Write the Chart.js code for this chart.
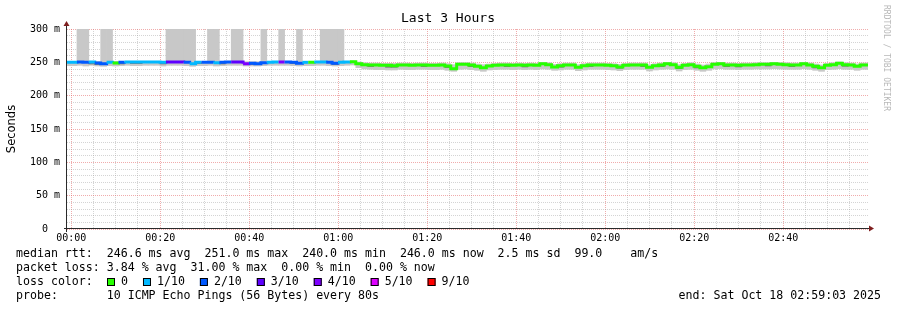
<!DOCTYPE html>
<html>
<head>
<meta charset="utf-8">
<title>Last 3 Hours</title>
<script src="https://cdn.jsdelivr.net/npm/chart.js@4.4.0/dist/chart.umd.min.js"></script>
<style>
  html, body { margin: 0; padding: 0; background: #fff; }
  canvas { display: block; }
</style>
</head>
<body>
<canvas id="smoke" width="897" height="310"></canvas>
<script>
// times are seconds relative to 00:00, one rrd step every 80 s
const stepSeconds = 80;
const firstStep = -83;      // 23:58:37
const viewStart = -57;      // 23:59:03
const viewEnd = 10743;      // 02:59:03

const timeLabels = ['00:00', '00:20', '00:40', '01:00', '01:20', '01:40', '02:00', '02:20', '02:40'];
const yLabels = ['0  ', '50 m', '100 m', '150 m', '200 m', '250 m', '300 m'];

// median rtt per step (ms)
const median = [
  250, 250, 250.5, 250, 250.5, 249, 248, 250, 249, 250,
  250.5, 250.5, 250.5, 250.5, 250.5, 250.5, 250, 250.5, 250.5, 250.5,
  250, 248, 250, 250, 250, 249.5, 250, 250.5, 250.5, 250.5,
  248, 248.5, 248, 249.5, 250, 250.5, 250.5, 250.5, 250, 248.5,
  250, 250, 250.5, 250.5, 250, 248.5, 250, 250.5, 251, 248,
  246.5, 246, 246, 245.5, 245.5, 245, 246, 246, 245.5, 246,
  246, 245.5, 245.5, 246, 244.5, 240.5, 247, 247, 246, 244,
  242, 244.5, 245.5, 246, 246, 245.5, 246, 245.5, 246, 245.5,
  248, 246.5, 243, 245, 246, 246, 242.5, 245, 246, 246,
  246, 245.5, 245, 243, 245.5, 246, 246, 246, 242.5, 245,
  246, 248, 246.5, 242.5, 245.5, 246.5, 244, 242, 243.5, 247,
  248, 246, 246, 245.5, 246, 246, 246.5, 247, 247, 248,
  247, 246.5, 246, 246, 248, 246, 244, 242, 245.5, 246.5,
  248.5, 246.5, 246, 244, 246, 246
];

// lost pings out of 10 per step
const loss = [
  1, 1, 2, 2, 1, 2, 2, 1, 0, 2,
  1, 1, 1, 1, 1, 1, 1, 3, 3, 3,
  2, 1, 1, 2, 2, 1, 2, 2, 3, 3,
  4, 2, 2, 2, 1, 1, 4, 2, 2, 2,
  1, 0, 1, 1, 2, 2, 1, 1, 0, 0,
  0, 0, 0, 0, 0, 0, 0, 0, 0, 0,
  0, 0, 0, 0, 0, 0, 0, 0, 0, 0,
  0, 0, 0, 0, 0, 0, 0, 0, 0, 0,
  0, 0, 0, 0, 0, 0, 0, 0, 0, 0,
  0, 0, 0, 0, 0, 0, 0, 0, 0, 0,
  0, 0, 0, 0, 0, 0, 0, 0, 0, 0,
  0, 0, 0, 0, 0, 0, 0, 0, 0, 0,
  0, 0, 0, 0, 0, 0, 0, 0, 0, 0,
  0, 0, 0, 0, 0, 0
];

// smoke: lowest / highest ping per step (ms)
const smokeLo = [
  245, 245, 245.5, 244.5, 245.5, 244.5, 244, 245, 244.5, 245,
  245.5, 245, 245, 245.5, 245.5, 245.5, 244.5, 245.5, 245.5, 245.5,
  245, 244, 245, 245, 245.5, 244.5, 245, 245.5, 245.5, 245.5,
  244.5, 244.5, 244.5, 245, 245.5, 245.5, 245.5, 245.5, 245, 244.5,
  245, 245, 245.5, 245.5, 245, 244.5, 245, 245.5, 246, 242,
  240, 239.5, 239, 239, 238.5, 238.5, 239.5, 239, 239, 239.5,
  239.5, 239, 239, 239.5, 238, 236.5, 239.5, 240, 239, 238,
  236.5, 238.5, 239, 239.5, 239.5, 239, 239.5, 239, 239.5, 239,
  240, 239.5, 238, 238.5, 239.5, 239.5, 237.5, 238.5, 239.5, 239.5,
  239.5, 239, 238.5, 237.5, 239, 239.5, 239.5, 239.5, 237, 238.5,
  239.5, 240, 239.5, 237, 239, 239.5, 238, 236.5, 238, 240,
  240.5, 239.5, 239.5, 239, 239.5, 239.5, 240, 240, 240, 240.5,
  240, 239.5, 239.5, 239.5, 240.5, 239.5, 238, 236.5, 239, 239.5,
  240.5, 239.5, 239.5, 238, 239.5, 239.5
];
const smokeHi = [
  251.5, 251.5, 320, 320, 251.5, 251.5, 320, 320, 251.5, 251.5,
  251.5, 251.5, 251.5, 251.5, 251.5, 251.5, 251.5, 320, 320, 320,
  320, 320, 251.5, 251.5, 320, 320, 251.5, 251.5, 320, 320,
  251, 251, 251, 320, 251.5, 251.5, 320, 251.5, 251.5, 320,
  251.5, 251.5, 251.5, 320, 320, 320, 320, 251.5, 252, 250.5,
  249.5, 249, 249, 248.5, 248.5, 248.5, 249, 249, 248.5, 249,
  249, 248.5, 248.5, 249, 248, 246.5, 249.5, 249.5, 249, 247.5,
  246.5, 247.5, 248.5, 249, 249, 248.5, 249, 248.5, 249, 248.5,
  250, 249.5, 247, 248, 249, 249, 246.5, 248, 249, 249,
  249, 248.5, 248, 247, 248.5, 249, 249, 249, 246.5, 248,
  249, 250, 249.5, 246.5, 248.5, 249.5, 247.5, 246, 247.5, 249.5,
  250, 249, 249, 248.5, 249, 249, 249.5, 249.5, 249.5, 250,
  249.5, 249.5, 249, 249, 250, 249, 247.5, 246, 248.5, 249.5,
  250.5, 249.5, 249, 247.5, 249, 249
];
// denser smoke just under the median
const darkLo = [
  null, null, null, null, 247.5, 246.5, null, null, null, 247.5,
  null, 248, 248, null, null, null, 247.5, null, null, null,
  null, null, 248, null, null, null, 247.5, null, null, null,
  null, 246.5, null, null, null, null, null, null, 248, null,
  null, null, null, null, null, 246.5, null, null, null, null,
  null, 243.5, null, null, 242.5, 242.5, null, null, null, null,
  243.5, null, null, null, 242, null, null, null, 243.5, null,
  null, null, null, null, 243.5, null, null, 243, null, null,
  null, null, null, 242.5, null, null, null, null, 243.5, null,
  null, null, null, 241, null, null, null, 243.5, null, null,
  243.5, null, null, 240.5, null, null, 241.5, null, null, null,
  null, 243.5, null, 243, null, null, null, null, 244.5, null,
  null, null, 243.5, null, null, null, 241.5, null, null, null,
  null, 244, null, null, null, null
];

const lossLevels = [0, 1, 2, 3, 4, 5, 9];
const lossLegend = ['0', '1/10', '2/10', '3/10', '4/10', '5/10', '9/10'];
const lossColors = {0: '#26ff00', 1: '#00b8ff', 2: '#0059ff', 3: '#5e00ff', 4: '#7e00ff', 5: '#dd00ff', 9: '#ff0000'};

const statsRtt = 'median rtt:  246.6 ms avg  251.0 ms max  240.0 ms min  246.0 ms now  2.5 ms sd  99.0    am/s';
const statsLoss = 'packet loss: 3.84 % avg  31.00 % max  0.00 % min  0.00 % now';
const probeText = 'probe:       10 ICMP Echo Pings (56 Bytes) every 80s';
const endText = 'end: Sat Oct 18 02:59:03 2025';

const MONO = '"DejaVu Sans Mono", monospace';
const minorGrid = 'rgba(160,160,160,0.45)';
const majorGrid = 'rgba(225,90,90,0.5)';

const stepStarts = median.map((_, i) => firstStep + i * stepSeconds);
const lineData = median.map((v, i) => ({ x: stepStarts[i], y: v }));
lineData.push({ x: firstStep + median.length * stepSeconds, y: median[median.length - 1] });
const smokeData = smokeLo.map((lo, i) => ({ x: stepStarts[i] + stepSeconds / 2, y: [lo, smokeHi[i]] }));
const darkData = darkLo.map((lo, i) => ({ x: stepStarts[i] + stepSeconds / 2, y: lo === null ? null : [lo, median[i]] }));

const decorations = {
  id: 'decorations',
  afterDraw(chart) {
    const ctx = chart.ctx;
    const a = chart.chartArea;
    ctx.save();

    // axes + arrows
    const ax = a.left - 0.5, ay = a.bottom - 0.5;
    ctx.strokeStyle = '#2a2a2a';
    ctx.lineWidth = 1;
    ctx.beginPath();
    ctx.moveTo(ax, a.bottom + 3);
    ctx.lineTo(ax, a.top - 5);
    ctx.moveTo(a.left - 3, ay);
    ctx.lineTo(a.right + 2, ay);
    ctx.stroke();
    ctx.fillStyle = '#7f1f1f';
    ctx.beginPath();
    ctx.moveTo(ax, a.top - 8);
    ctx.lineTo(ax - 3, a.top - 3);
    ctx.lineTo(ax + 3, a.top - 3);
    ctx.closePath();
    ctx.fill();
    ctx.beginPath();
    ctx.moveTo(a.right + 6, ay);
    ctx.lineTo(a.right + 1, ay - 3);
    ctx.lineTo(a.right + 1, ay + 3);
    ctx.closePath();
    ctx.fill();

    // title
    ctx.fillStyle = '#000';
    ctx.textBaseline = 'middle';
    ctx.textAlign = 'center';
    ctx.font = '13px ' + MONO;
    ctx.fillText('Last 3 Hours', 448, 19);

    // y axis title
    ctx.save();
    ctx.translate(12, (a.top + a.bottom) / 2);
    ctx.rotate(-Math.PI / 2);
    ctx.font = '11.5px "DejaVu Sans", sans-serif';
    ctx.fillText('Seconds', 0, 0);
    ctx.restore();

    // watermark
    ctx.save();
    ctx.rotate(Math.PI / 2);
    ctx.textAlign = 'left';
    ctx.fillStyle = '#b8b8b8';
    ctx.font = '8px ' + MONO;
    ctx.fillText('RRDTOOL / TOBI OETIKER', 5, -886);
    ctx.restore();

    // legend block
    ctx.font = '11.6px ' + MONO;
    ctx.textAlign = 'left';
    ctx.fillStyle = '#000';
    ctx.fillText(statsRtt, 16, 254);
    ctx.fillText(statsLoss, 16, 268);
    ctx.fillText('loss color:', 16, 282);
    let bx = 107;
    lossLevels.forEach((lv, i) => {
      ctx.fillStyle = lossColors[lv];
      ctx.fillRect(bx, 278, 8, 8);
      ctx.strokeStyle = '#000';
      ctx.strokeRect(bx + 0.5, 278.5, 7, 7);
      ctx.fillStyle = '#000';
      ctx.fillText(lossLegend[i], bx + 14, 282);
      bx += 14 + ctx.measureText(lossLegend[i]).width + 15;
    });
    ctx.fillText(probeText, 16, 296);
    ctx.textAlign = 'right';
    ctx.fillText(endText, 881, 296);

    ctx.restore();
  }
};

new Chart(document.getElementById('smoke'), {
  type: 'bar',
  data: {
    datasets: [
      {
        type: 'line',
        data: lineData,
        stepped: true,
        borderWidth: 3,
        borderColor: lossColors[0],
        pointRadius: 0,
        clip: 0,
        segment: {
          borderColor: (c) => lossColors[loss[c.p0DataIndex]] || lossColors[0]
        }
      },
      {
        data: darkData,
        backgroundColor: '#7a7a7a',
        borderWidth: 0,
        grouped: false,
        barPercentage: 1,
        categoryPercentage: 1
      },
      {
        data: smokeData,
        backgroundColor: '#c8c8c8',
        borderWidth: 0,
        grouped: false,
        barPercentage: 1,
        categoryPercentage: 1
      }
    ]
  },
  options: {
    responsive: false,
    animation: false,
    devicePixelRatio: 1,
    layout: { padding: { left: 0, top: 29, right: 29, bottom: 61 } },
    plugins: {
      legend: { display: false },
      tooltip: { enabled: false },
      title: { display: false }
    },
    scales: {
      x: {
        type: 'linear',
        offset: false,
        min: viewStart,
        max: viewEnd,
        afterBuildTicks: (scale) => {
          const ticks = [];
          for (let t = 0; t <= viewEnd; t += 300) ticks.push({ value: t });
          scale.ticks = ticks;
        },
        afterFit: (scale) => { scale.height = 20; },
        grid: {
          offset: false,
          color: (c) => (c.tick && c.tick.value % 1200 === 0) ? majorGrid : minorGrid,
          lineWidth: 1,
          drawTicks: false
        },
        border: { display: false, dash: [1, 1] },
        ticks: {
          autoSkip: false,
          maxRotation: 0,
          padding: 3,
          color: '#000',
          font: { family: 'DejaVu Sans Mono', size: 10 },
          callback: (v) => v % 1200 === 0 ? timeLabels[v / 1200] : ''
        }
      },
      y: {
        min: 0,
        max: 300,
        afterFit: (scale) => { scale.width = 67; },
        grid: {
          color: (c) => (c.tick && c.tick.value % 50 === 0) ? majorGrid : minorGrid,
          lineWidth: 1,
          drawTicks: false
        },
        border: { display: false, dash: [1, 1] },
        ticks: {
          stepSize: 10,
          autoSkip: false,
          padding: 7,
          color: '#000',
          font: { family: 'DejaVu Sans Mono', size: 10 },
          callback: (v) => v % 50 === 0 ? yLabels[v / 50] : ''
        }
      }
    }
  },
  plugins: [decorations]
});
</script>
</body>
</html>
